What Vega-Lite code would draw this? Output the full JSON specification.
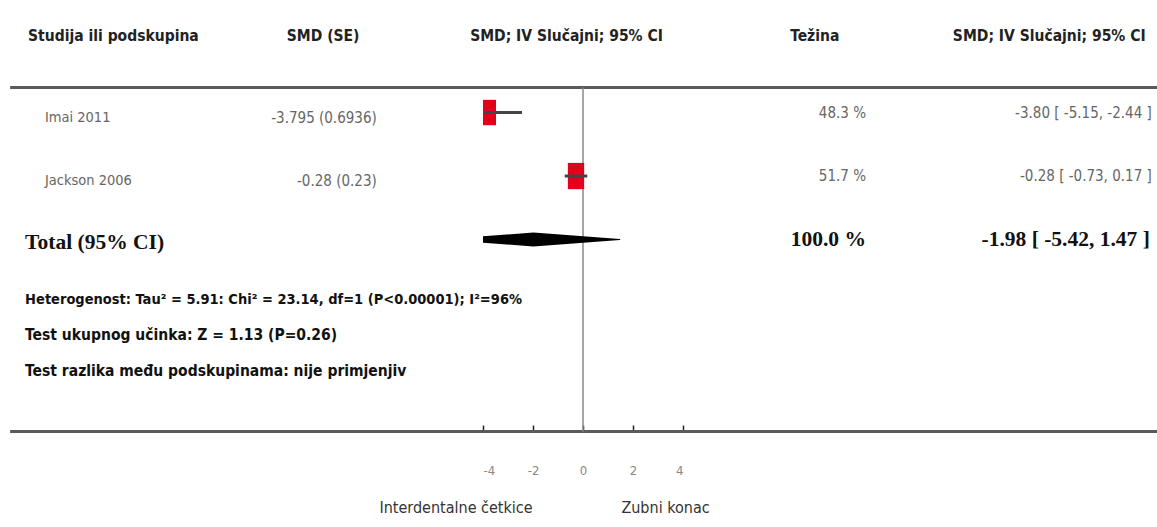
{
"$schema":"https://vega.github.io/schema/vega-lite/v6.json",
"padding":0,
"autosize":{"type":"pad"},
"bounds":"flush",
"spacing":0,
"background":"white",
"config":{"view":{"stroke":null},"text":{"font":"Liberation Sans Narrow, DejaVu Sans Condensed, sans-serif"}},
"datasets":{
 "studies":[
  {"study":"Imai 2011","smdse":"-3.795 (0.6936)","est":-3.795,"lo":-5.15,"hi":-2.44,"weight":48.3,"wlabel":"48.3 %","ci":"-3.80 [ -5.15, -2.44 ]","row":1},
  {"study":"Jackson 2006","smdse":"-0.28 (0.23)","est":-0.28,"lo":-0.73,"hi":0.17,"weight":51.7,"wlabel":"51.7 %","ci":"-0.28 [ -0.73, 0.17 ]","row":2}
 ],
 "total":[{"label":"Total (95% CI)","wlabel":"100.0 %","ci":"-1.98 [ -5.42, 1.47 ]","row":3}],
 "diamond":[{"x":-5.42,"w":0,"row":3},{"x":-1.98,"w":100,"row":3},{"x":1.47,"w":0,"row":3}],
 "notes":[
  {"text":"Heterogenost: Tau² = 5.91: Chi² = 23.14, df=1 (P<0.00001); I²=96%","row":3.95},
  {"text":"Test ukupnog učinka: Z = 1.13 (P=0.26)","row":4.5},
  {"text":"Test razlika među podskupinama: nije primjenjiv","row":5.07}
 ],
 "one":[{"k":1}]
},
"hconcat":[
 {"width":483,"height":432,
  "layer":[
   {"data":{"name":"one"},"mark":{"type":"rule","color":"#5a5a5a","strokeWidth":3},
    "encoding":{"x":{"datum":2.1,"type":"quantitative","scale":{"domain":[0,100],"nice":false,"zero":false},"axis":null},"x2":{"datum":100},
     "y":{"datum":0.606,"type":"quantitative","scale":{"domain":[-0.772,6.031],"reverse":true,"nice":false,"zero":false},"axis":null}}},
   {"data":{"name":"one"},"mark":{"type":"rule","color":"#5a5a5a","strokeWidth":3},
    "encoding":{"x":{"datum":2.1,"type":"quantitative"},"x2":{"datum":100},"y":{"datum":6.024,"type":"quantitative"}}},
   {"data":{"name":"one"},"mark":{"type":"text","align":"left","baseline":"middle","fontWeight":"bold","fontSize":15.5,"color":"#222"},
    "encoding":{"x":{"datum":5.8,"type":"quantitative"},"y":{"datum":-0.2,"type":"quantitative"},"text":{"value":"Studija ili podskupina"}}},
   {"data":{"name":"one"},"mark":{"type":"text","align":"center","baseline":"middle","fontWeight":"bold","fontSize":15.5,"color":"#222"},
    "encoding":{"x":{"datum":66.9,"type":"quantitative"},"y":{"datum":-0.2,"type":"quantitative"},"text":{"value":"SMD (SE)"}}},
   {"data":{"name":"studies"},"mark":{"type":"text","align":"left","baseline":"middle","fontSize":14.5,"color":"#666","dy":5},
    "encoding":{"x":{"datum":9.3,"type":"quantitative"},"y":{"field":"row","type":"quantitative"},"text":{"field":"study"}}},
   {"data":{"name":"studies"},"mark":{"type":"text","align":"right","baseline":"middle","fontSize":15,"color":"#666","dy":5},
    "encoding":{"x":{"datum":78.0,"type":"quantitative"},"y":{"field":"row","type":"quantitative"},"text":{"field":"smdse"}}},
   {"data":{"name":"total"},"mark":{"type":"text","align":"left","baseline":"middle","fontSize":21.5,"fontWeight":"bold","font":"Liberation Serif","color":"#111","dy":3},
    "encoding":{"x":{"datum":5.2,"type":"quantitative"},"y":{"field":"row","type":"quantitative"},"text":{"field":"label"}}},
   {"data":{"name":"notes"},"transform":[{"filter":"datum.row < 4"}],
    "mark":{"type":"text","align":"left","baseline":"middle","fontWeight":"bold","fontSize":14.5,"color":"#111"},
    "encoding":{"x":{"datum":5.2,"type":"quantitative"},"y":{"field":"row","type":"quantitative"},"text":{"field":"text"}}},
   {"data":{"name":"notes"},"transform":[{"filter":"datum.row >= 4"}],
    "mark":{"type":"text","align":"left","baseline":"middle","fontWeight":"bold","fontSize":15.5,"color":"#111"},
    "encoding":{"x":{"datum":5.2,"type":"quantitative"},"y":{"field":"row","type":"quantitative"},"text":{"field":"text"}}}
  ]},
 {"width":200,"height":432,
  "resolve":{"scale":{"size":"independent"}},
  "layer":[
   {"data":{"name":"one"},"mark":{"type":"rule","color":"#5a5a5a","strokeWidth":3},
    "encoding":{"y":{"datum":0.606,"type":"quantitative","scale":{"domain":[-0.772,6.031],"reverse":true,"nice":false,"zero":false},"axis":null}}},
   {"data":{"name":"one"},"mark":{"type":"rule","color":"#5a5a5a","strokeWidth":3},
    "encoding":{"y":{"datum":6.024,"type":"quantitative"}}},
   {"data":{"name":"one"},"mark":{"type":"rule","color":"#8a8a8a","strokeWidth":1.5},
    "encoding":{"x":{"datum":0,"type":"quantitative","scale":{"domain":[-4,4],"nice":false,"zero":false},
      "axis":{"values":[-4,-2,0,2,4],"domain":false,"grid":false,"tickSize":-7,"tickWidth":1.5,"tickColor":"#222","labelPadding":39,"labelColor":"#888","labelFontSize":13,"labelFont":"Liberation Sans Narrow, DejaVu Sans Condensed, sans-serif","labelExpr":"datum.value + ''","title":null}},
     "y":{"datum":0.606,"type":"quantitative"},"y2":{"datum":6.024}}},
   {"data":{"name":"studies"},"mark":{"type":"point","shape":"M-0.62,-1H0.62V1H-0.62Z","filled":true,"color":"#e3001b","opacity":1,"strokeWidth":0,"clip":true},
    "encoding":{"x":{"field":"est","type":"quantitative"},"y":{"field":"row","type":"quantitative"},
     "size":{"field":"weight","type":"quantitative","scale":{"domain":[0,60],"range":[0,800]},"legend":null}}},
   {"data":{"name":"studies"},"mark":{"type":"rule","color":"#444","strokeWidth":3,"clip":true},
    "encoding":{"x":{"field":"lo","type":"quantitative"},"x2":{"field":"hi"},"y":{"field":"row","type":"quantitative"}}},
   {"data":{"name":"diamond"},"mark":{"type":"trail","color":"#000","clip":true},
    "encoding":{"x":{"field":"x","type":"quantitative"},"y":{"field":"row","type":"quantitative"},
     "size":{"field":"w","type":"quantitative","scale":{"domain":[0,100],"range":[0,14]},"legend":null}}},
   {"data":{"name":"one"},"mark":{"type":"text","align":"center","baseline":"middle","fontWeight":"bold","fontSize":15.5,"color":"#222"},
    "encoding":{"x":{"datum":-0.66,"type":"quantitative"},"y":{"datum":-0.2,"type":"quantitative"},"text":{"value":"SMD; IV Slučajni; 95% CI"}}},
   {"data":{"name":"one"},"mark":{"type":"text","align":"center","baseline":"middle","fontSize":16,"color":"#333"},
    "encoding":{"x":{"datum":-5.08,"type":"quantitative"},"y":{"datum":7.23,"type":"quantitative"},"text":{"value":"Interdentalne četkice"}}},
   {"data":{"name":"one"},"mark":{"type":"text","align":"center","baseline":"middle","fontSize":16,"color":"#333"},
    "encoding":{"x":{"datum":3.3,"type":"quantitative"},"y":{"datum":7.23,"type":"quantitative"},"text":{"value":"Zubni konac"}}}
  ]},
 {"width":474,"height":432,
  "layer":[
   {"data":{"name":"one"},"mark":{"type":"rule","color":"#5a5a5a","strokeWidth":3},
    "encoding":{"y":{"datum":0.606,"type":"quantitative","scale":{"domain":[-0.772,6.031],"reverse":true,"nice":false,"zero":false},"axis":null}}},
   {"data":{"name":"one"},"mark":{"type":"rule","color":"#5a5a5a","strokeWidth":3},
    "encoding":{"y":{"datum":6.024,"type":"quantitative"}}},
   {"data":{"name":"one"},"mark":{"type":"text","align":"center","baseline":"middle","fontWeight":"bold","fontSize":15.5,"color":"#222"},
    "encoding":{"x":{"datum":27.8,"type":"quantitative","scale":{"domain":[0,100],"nice":false,"zero":false},"axis":null},"y":{"datum":-0.2,"type":"quantitative"},"text":{"value":"Težina"}}},
   {"data":{"name":"one"},"mark":{"type":"text","align":"right","baseline":"middle","fontWeight":"bold","fontSize":15.5,"color":"#222"},
    "encoding":{"x":{"datum":97.6,"type":"quantitative"},"y":{"datum":-0.2,"type":"quantitative"},"text":{"value":"SMD; IV Slučajni; 95% CI"}}},
   {"data":{"name":"studies"},"mark":{"type":"text","align":"right","baseline":"middle","fontSize":15,"color":"#666"},
    "encoding":{"x":{"datum":38.6,"type":"quantitative"},"y":{"field":"row","type":"quantitative"},"text":{"field":"wlabel"}}},
   {"data":{"name":"studies"},"mark":{"type":"text","align":"right","baseline":"middle","fontSize":15,"color":"#666"},
    "encoding":{"x":{"datum":98.9,"type":"quantitative"},"y":{"field":"row","type":"quantitative"},"text":{"field":"ci"}}},
   {"data":{"name":"total"},"mark":{"type":"text","align":"right","baseline":"middle","fontSize":21.5,"fontWeight":"bold","font":"Liberation Serif","color":"#111"},
    "encoding":{"x":{"datum":38.6,"type":"quantitative"},"y":{"field":"row","type":"quantitative"},"text":{"field":"wlabel"}}},
   {"data":{"name":"total"},"mark":{"type":"text","align":"right","baseline":"middle","fontSize":21.5,"fontWeight":"bold","font":"Liberation Serif","color":"#111"},
    "encoding":{"x":{"datum":98.5,"type":"quantitative"},"y":{"field":"row","type":"quantitative"},"text":{"field":"ci"}}}
  ]}
]
}
